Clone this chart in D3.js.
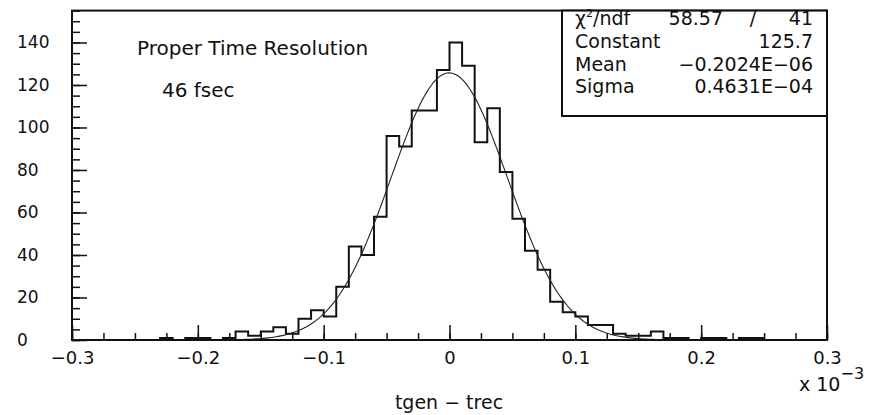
<!DOCTYPE html>
<html>
<head>
<meta charset="utf-8">
<script src="https://cdn.jsdelivr.net/npm/d3@7"></script>
<style>
  html, body { margin: 0; padding: 0; background: #fff; }
  svg { display: block; font-family: "DejaVu Sans", sans-serif; }
</style>
</head>
<body>
<div id="chart"></div>
<script>
// --- data ---
// histogram: 60 bins of 0.01 (x 10^-3) starting at -0.3
const binLow   = -0.3;
const binWidth = 0.01;
const counts = [
  0, 0, 0, 0, 0, 0, 0, 1, 0, 1,
  1, 0, 1, 4, 2, 4, 6, 3, 10, 14,
  11, 25, 44, 40, 58, 96, 91, 108, 108, 127,
  140, 129, 93, 109, 79, 57, 42, 33, 18, 13,
  11, 7, 7, 3, 2, 2, 4, 1, 1, 0,
  1, 1, 0, 1, 1, 0, 0, 0, 0, 0
];

// gaussian fit (x in units of 10^-3)
const fitConstant = 125.7;
const fitMean     = -0.2024e-3;
const fitSigma    = 0.04631;

const xMajor      = [-0.3, -0.2, -0.1, 0, 0.1, 0.2, 0.3];
const xMajorLabel = ['\u22120.3', '\u22120.2', '\u22120.1', '0', '0.1', '0.2', '0.3'];
const yMajor      = [0, 20, 40, 60, 80, 100, 120, 140];

const statNames  = ['Constant', 'Mean', 'Sigma'];
const statValues = ['125.7', '\u22120.2024E\u221206', '0.4631E\u221204'];
const chi2 = '58.57', ndf = '41';

// --- layout ---
const W = 878, H = 415;
const plot = { left: 72, right: 827, top: 10.6, bottom: 340 };

const svg = d3.select('#chart').append('svg')
  .attr('width', W)
  .attr('height', H);

svg.append('rect').attr('width', W).attr('height', H).attr('fill', '#fff');

const x = d3.scaleLinear().domain([-0.3, 0.3]).range([plot.left, plot.right]);
const y = d3.scaleLinear().domain([0, 155]).range([plot.bottom, plot.top]);

const ink = '#111';

// minor ticks
svg.append('g')
  .attr('transform', `translate(0,${plot.bottom})`)
  .call(d3.axisBottom(x).tickValues(d3.range(-0.3, 0.3001, 0.025)).tickSize(-7).tickFormat(''))
  .call(g => g.select('.domain').remove())
  .call(g => g.selectAll('line').attr('stroke', ink).attr('stroke-width', 1.5));

svg.append('g')
  .attr('transform', `translate(${plot.left},0)`)
  .call(d3.axisLeft(y).tickValues(d3.range(0, 156, 5)).tickSize(-8).tickFormat(''))
  .call(g => g.select('.domain').remove())
  .call(g => g.selectAll('line').attr('stroke', ink).attr('stroke-width', 1.5));

// major ticks + labels
svg.append('g')
  .attr('transform', `translate(0,${plot.bottom})`)
  .call(d3.axisBottom(x).tickValues(xMajor).tickSize(-15).tickPadding(11)
    .tickFormat((d, i) => xMajorLabel[i]))
  .call(g => g.select('.domain').remove())
  .call(g => g.selectAll('line').attr('stroke', ink).attr('stroke-width', 1.5))
  .call(g => g.selectAll('text').attr('fill', ink).attr('font-size', 18)
    .attr('font-family', '"DejaVu Sans", sans-serif'));

svg.append('g')
  .attr('transform', `translate(${plot.left},0)`)
  .call(d3.axisLeft(y).tickValues(yMajor).tickSize(-15))
  .call(g => g.select('.domain').remove())
  .call(g => g.selectAll('line').attr('stroke', ink).attr('stroke-width', 1.5))
  .call(g => g.selectAll('text')
    .attr('fill', ink).attr('font-size', 17)
    .attr('font-family', '"DejaVu Sans", sans-serif')
    .attr('text-anchor', 'start')
    .attr('x', 17 - plot.left));

// histogram outline
const steps = counts.map((c, i) => [binLow + i * binWidth, c]);
steps.push([binLow + counts.length * binWidth, counts[counts.length - 1]]);

svg.append('path')
  .datum(steps)
  .attr('fill', 'none')
  .attr('stroke', ink)
  .attr('stroke-width', 2)
  .attr('d', d3.line().x(d => x(d[0])).y(d => y(d[1])).curve(d3.curveStepAfter));

// fit curve
const gauss = v => fitConstant * Math.exp(-0.5 * Math.pow((v - fitMean) / fitSigma, 2));
const fitPts = d3.range(-0.3, 0.3001, 0.002).map(v => [v, gauss(v)]);

svg.append('path')
  .datum(fitPts)
  .attr('fill', 'none')
  .attr('stroke', '#222')
  .attr('stroke-width', 1.1)
  .attr('d', d3.line().x(d => x(d[0])).y(d => y(d[1])));

// frame
svg.append('rect')
  .attr('x', plot.left).attr('y', plot.top)
  .attr('width', plot.right - plot.left)
  .attr('height', plot.bottom - plot.top)
  .attr('fill', 'none')
  .attr('stroke', ink)
  .attr('stroke-width', 2);

// stats box
const box = { x0: 562, x1: plot.right, y0: plot.top, y1: 116 };
svg.append('rect')
  .attr('x', box.x0).attr('y', box.y0)
  .attr('width', box.x1 - box.x0).attr('height', box.y1 - box.y0)
  .attr('fill', '#fff')
  .attr('stroke', ink)
  .attr('stroke-width', 2);

const stats = svg.append('g').attr('font-size', 19).attr('fill', ink);
const rowY = [25, 48, 70.5, 93];

const chiLabel = stats.append('text').attr('x', 575).attr('y', rowY[0]);
chiLabel.append('tspan').text('\u03c7');
chiLabel.append('tspan').attr('font-size', 11).attr('dy', -8).text('2');
chiLabel.append('tspan').attr('dy', 8).text('/ndf');
stats.append('text').attr('x', 723).attr('y', rowY[0]).attr('text-anchor', 'end').text(chi2);
stats.append('text').attr('x', 753).attr('y', rowY[0]).attr('text-anchor', 'middle').text('/');
stats.append('text').attr('x', 813).attr('y', rowY[0]).attr('text-anchor', 'end').text(ndf);

statNames.forEach((n, i) => {
  stats.append('text').attr('x', 575).attr('y', rowY[i + 1]).text(n);
  stats.append('text').attr('x', 813).attr('y', rowY[i + 1]).attr('text-anchor', 'end').text(statValues[i]);
});

// annotations
svg.append('text').attr('x', 137).attr('y', 55).attr('font-size', 20).attr('fill', ink)
  .text('Proper Time Resolution');
svg.append('text').attr('x', 162).attr('y', 97).attr('font-size', 20).attr('fill', ink)
  .text('46 fsec');

// axis title and exponent
svg.append('text').attr('x', 449).attr('y', 409).attr('font-size', 19).attr('fill', ink)
  .attr('text-anchor', 'middle')
  .text('tgen \u2212 trec');

const expo = svg.append('text').attr('x', 799).attr('y', 391).attr('font-size', 19).attr('fill', ink);
expo.append('tspan').text('x 10');
expo.append('tspan').attr('font-size', 16).attr('dy', -12).text('\u22123');
</script>
</body>
</html>
